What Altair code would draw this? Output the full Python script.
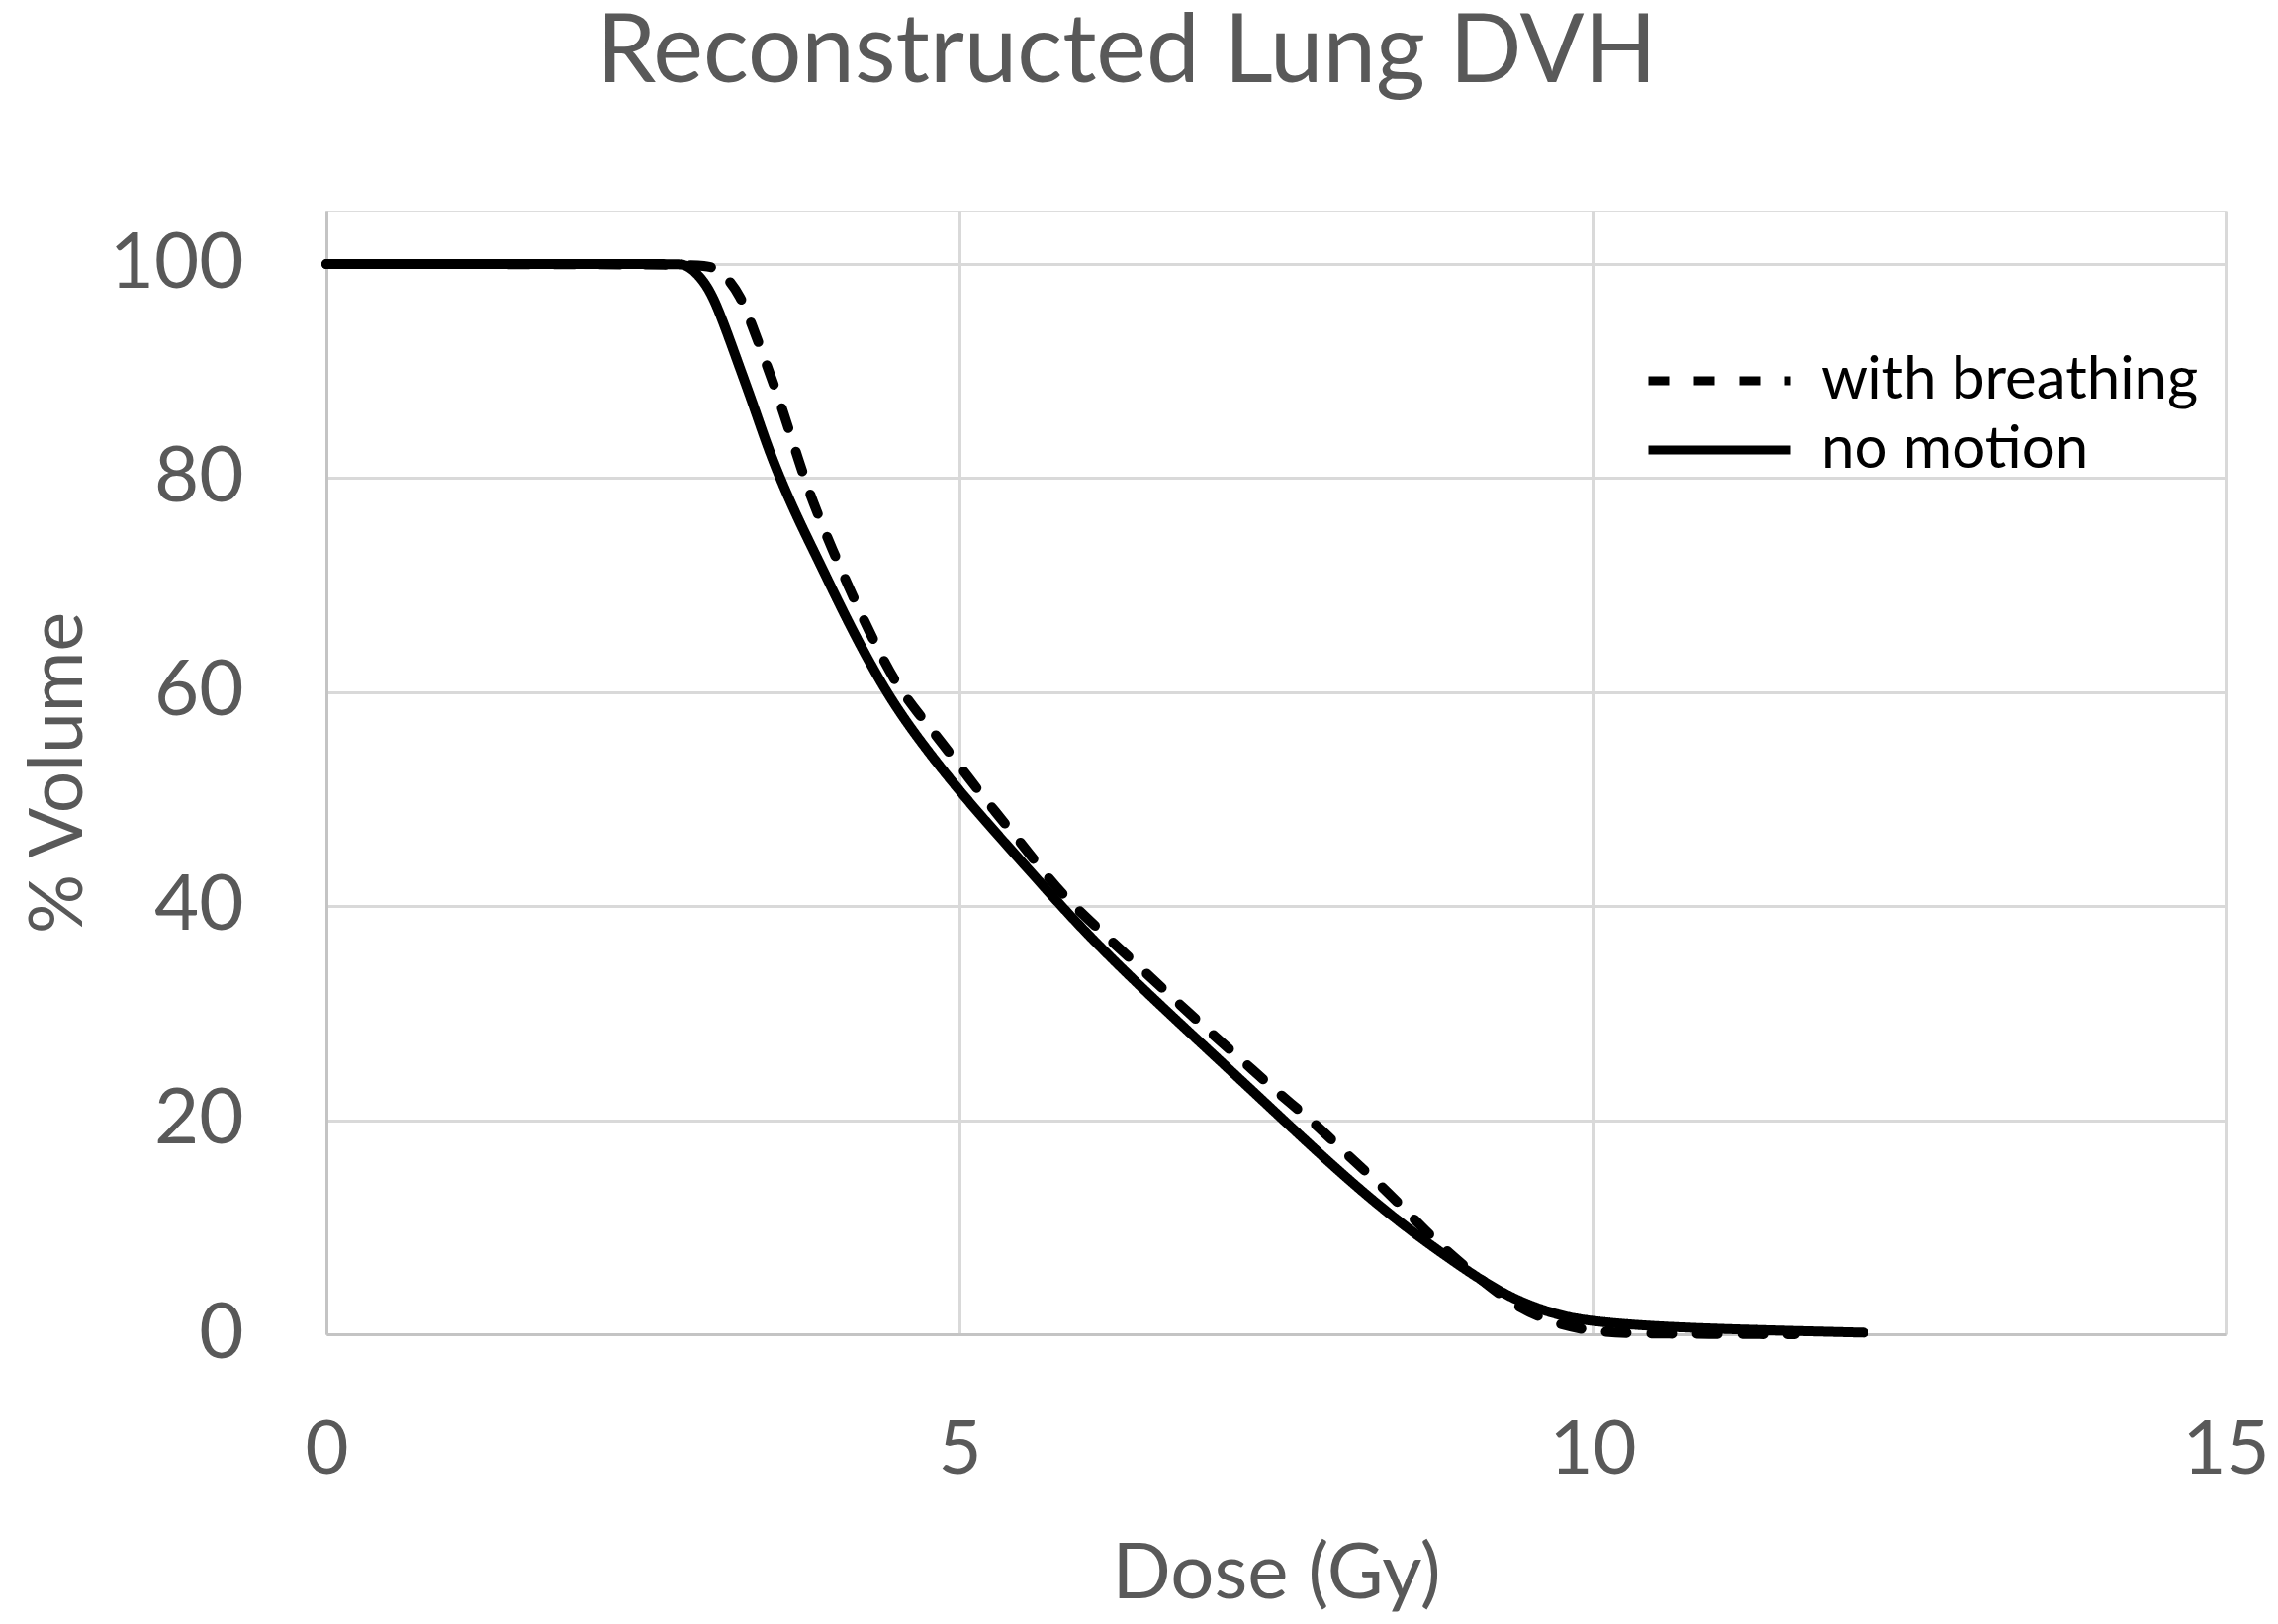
import altair as alt
import pandas as pd

# "no motion" curve (solid)
no_motion_dose = [0, 2.70, 2.80, 2.87, 3.01, 3.12, 3.25, 3.38, 3.51, 3.71, 3.90, 4.10, 4.40, 4.675,
                  5.01, 5.33, 5.69, 6.00, 6.365, 6.88, 7.40, 7.92, 8.44, 8.96, 9.35, 9.74, 10.0,
                  10.43, 11.07, 12.14]
no_motion_vol = [100, 100, 100, 99.8, 98.1, 95.1, 90.8, 86.6, 82.0, 76.5, 72.0, 67.0, 60.3, 55.6,
                 50.6, 46.3, 41.5, 37.5, 33.2, 27.5, 21.8, 16.0, 10.7, 6.3, 3.3, 1.7, 1.2,
                 0.77, 0.46, 0.15]

# "with breathing" curve (dashed)
breathing_dose = [0, 2.90, 3.06, 3.17, 3.27, 3.35, 3.48, 3.61, 3.73, 3.84, 4.00, 4.156, 4.31, 4.49,
                  4.675, 4.86, 5.065, 5.27, 5.48, 5.71, 5.90, 6.47, 6.75, 7.01, 7.27, 7.53, 7.78,
                  8.05, 8.34, 8.57, 8.83, 9.14, 9.38, 9.69, 10.04, 10.5, 11.6]
breathing_vol = [100, 100, 99.8, 98.7, 97.0, 94.7, 90.5, 86.2, 81.6, 77.8, 73.2, 69.0, 65.1, 60.9,
                 58.0, 55.3, 52.1, 49.0, 46.0, 42.5, 40.0, 33.8, 30.7, 27.9, 25.2, 22.4, 20.0,
                 16.9, 13.8, 11.0, 7.9, 4.9, 2.7, 1.0, 0.15, 0.05, 0.0]

series_names = ["with breathing", "no motion"]
x_ticks = [0, 5, 10, 15]
y_ticks = [0, 20, 40, 60, 80, 100]

df = pd.concat([
    pd.DataFrame({"dose": breathing_dose, "vol": breathing_vol, "series": series_names[0]}),
    pd.DataFrame({"dose": no_motion_dose, "vol": no_motion_vol, "series": series_names[1]}),
], ignore_index=True)

FONT = "Lato"
GRAY = "#595959"
GRID = "#d9d9d9"
AXIS = "#c4c4c4"

chart = alt.Chart(df).mark_line(
    color="black", strokeWidth=10, strokeCap="round", strokeJoin="round", interpolate="basis"
).encode(
    x=alt.X("dose:Q",
            scale=alt.Scale(domain=[0, 15], nice=False, zero=False),
            axis=alt.Axis(values=x_ticks, title="Dose (Gy)", ticks=False, tickSize=0,
                          labelPadding=80, labelFontSize=76, labelFont=FONT, labelColor=GRAY,
                          labelFlush=False, labelOverlap=False,
                          titleFont=FONT, titleFontSize=78, titleColor=GRAY, titleFontWeight="normal",
                          titleBaseline="alphabetic", titleY=266,
                          domainColor=AXIS, domainWidth=3,
                          grid=True, gridColor=GRID, gridWidth=3)),
    y=alt.Y("vol:Q",
            scale=alt.Scale(domain=[0, 105], nice=False),
            axis=alt.Axis(values=y_ticks, title="% Volume", ticks=False, tickSize=0,
                          labelPadding=84, labelFontSize=78, labelFont=FONT, labelColor=GRAY,
                          labelFlush=False, labelOverlap=False,
                          titleFont=FONT, titleFontSize=75, titleColor=GRAY, titleFontWeight="normal",
                          titleBaseline="alphabetic", titleX=-248, titleY=568, titleAlign="center",
                          domain=True, domainColor=AXIS, domainWidth=3,
                          grid=True, gridColor=GRID, gridWidth=3)),
    strokeDash=alt.StrokeDash(
        "series:N",
        scale=alt.Scale(domain=series_names, range=[[21, 25], [1, 0]]),
        legend=alt.Legend(title=None, orient="none", legendX=1332, legendY=141,
                          symbolType="stroke", symbolSize=20736, symbolStrokeWidth=9,
                          symbolStrokeColor="black", clipHeight=62, rowPadding=8,
                          labelFont=FONT, labelFontSize=60, labelColor="black", labelLimit=1000,
                          labelOffset=26, padding=0, symbolOffset=0)),
    order=alt.Order("dose:Q"),
).properties(
    width=1920,
    height=1136,
    title=alt.TitleParams("Reconstructed Lung DVH", font=FONT, fontSize=96, color=GRAY,
                          fontWeight="normal", anchor="middle", frame="group", dx=-151,
                          offset=34, baseline="alphabetic"),
    autosize=alt.AutoSizeParams(type="none"),
    padding={"left": 322, "top": 205, "right": 45, "bottom": 285},
).configure_view(stroke=None).configure(background="white")

chart.save("out.html", embed_options={"renderer": "svg", "actions": False})
